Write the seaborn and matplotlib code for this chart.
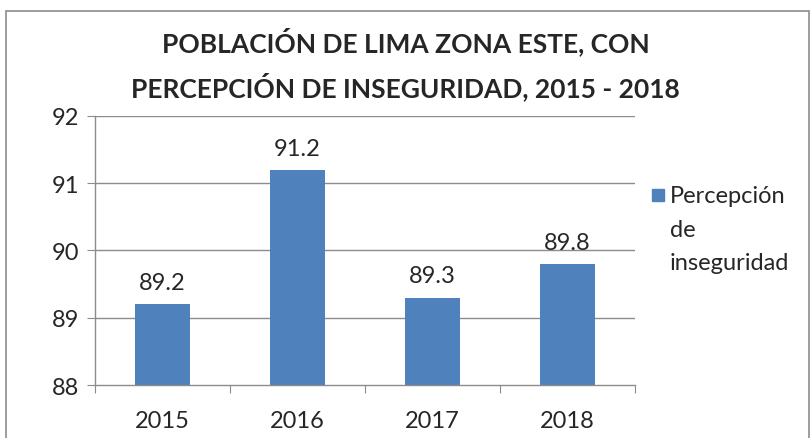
import matplotlib
matplotlib.use("Agg")
import matplotlib.pyplot as plt
import matplotlib.patches as mpatches
import seaborn as sns
import pandas as pd

years = ["2015", "2016", "2017", "2018"]
values = [89.2, 91.2, 89.3, 89.8]
yticks = [88, 89, 90, 91, 92]
series_name = "Percepción\nde\ninseguridad"
title = "POBLACIÓN DE LIMA ZONA ESTE, CON\nPERCEPCIÓN DE INSEGURIDAD, 2015 - 2018"

sns.set_style("white")
plt.rcParams["font.family"] = ["Lato", "DejaVu Sans"]

df = pd.DataFrame({"year": years, "value": values})
bar_color = "#4F81BD"
grid_color = "#8C8C8C"

fig = plt.figure(figsize=(8.11, 4.39), dpi=100)
ax = fig.add_axes([0.117, 0.1207, 0.666, 0.613])

sns.barplot(data=df, x="year", y="value", color=bar_color, width=0.41,
            saturation=1, ax=ax)
for p in ax.patches:
    p.set_edgecolor("none")

ax.set_ylim(88, 92)
ax.set_xlim(-0.5, 3.5)
ax.set_yticks(yticks)
ax.set_yticklabels([str(t) for t in yticks])
ax.set_xlabel("")
ax.set_ylabel("")

for t in yticks[1:]:
    ax.axhline(t, color=grid_color, lw=1, zorder=0)

for s in ["top", "right"]:
    ax.spines[s].set_visible(False)
for s in ["left", "bottom"]:
    ax.spines[s].set_color(grid_color)
    ax.spines[s].set_linewidth(1)

ax.tick_params(axis="y", length=6, color=grid_color, labelsize=17, pad=5,
               left=True)
ax.set_xticks([-0.5, 0.5, 1.5, 2.5, 3.5], minor=False)
ax.set_xticklabels([])
ax.set_xticks(range(len(years)), minor=True)
ax.set_xticklabels(years, minor=True)
ax.tick_params(axis="x", which="major", length=6, color=grid_color, bottom=True)
ax.tick_params(axis="x", which="minor", length=0, labelsize=17, pad=18)

for i, v in enumerate(values):
    ax.annotate(f"{v}", (i, v), xytext=(0, 8), textcoords="offset points",
                ha="center", va="bottom", fontsize=17)

fig.suptitle(title, x=0.5, y=0.938, fontsize=19, fontweight="bold",
             linespacing=1.65)

# legend drawn by hand so the swatch sits on the first text line
fig.patches.append(mpatches.Rectangle((652 / 811, 1 - 202 / 439), 12 / 811, 12 / 439,
                                      transform=fig.transFigure,
                                      color=bar_color))
fig.text(670 / 811, 1 - 186 / 439, series_name, ha="left", va="top",
         fontsize=17, linespacing=1.75)

border = mpatches.Rectangle((0.007, -0.1), 0.99, 1.072, transform=fig.transFigure,
                            fill=False, edgecolor="#8C8C8C", lw=1.2)
fig.patches.append(border)

fig.savefig("out.png", dpi=100)
